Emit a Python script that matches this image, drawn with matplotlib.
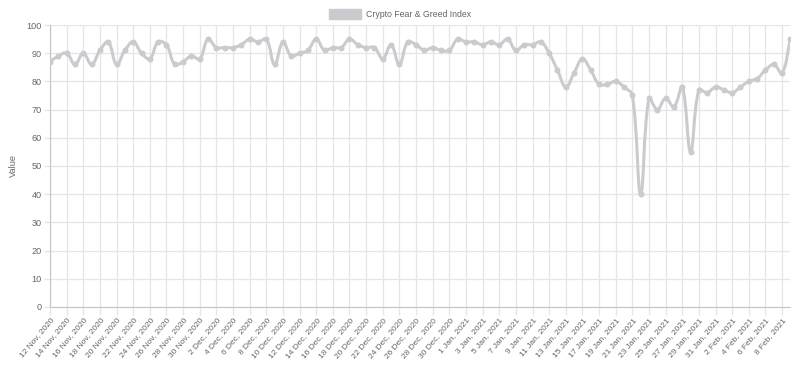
import matplotlib
matplotlib.use("Agg")
import matplotlib.pyplot as plt
from matplotlib.path import Path
from matplotlib.patches import PathPatch, Patch
import numpy as np
import pandas as pd

plt.rcParams["font.family"] = ["Liberation Sans", "DejaVu Sans"]

# daily index values, 12 Nov 2020 -> 9 Feb 2021
values = [87, 89, 90, 86, 90, 86, 91, 94, 86, 91,
          94, 90, 88, 94, 93, 86, 87, 89, 88, 95,
          92, 92, 92, 93, 95, 94, 95, 86, 94, 89,
          90, 91, 95, 91, 92, 92, 95, 93, 92, 92,
          88, 93, 86, 94, 93, 91, 92, 91, 91, 95,
          94, 94, 93, 94, 93, 95, 91, 93, 93, 94,
          90, 84, 78, 83, 88, 84, 79, 79, 80, 78,
          75, 40, 74, 70, 74, 71, 78, 55, 77, 76,
          78, 77, 76, 78, 80, 81, 84, 86, 83, 95]
dates = pd.date_range("2020-11-12", periods=len(values), freq="D")
labels = [f"{d.day} {d.strftime('%b')}, {d.year}" for d in dates]
series_name = "Crypto Fear & Greed Index"

line_color = "#c9cbcf"
text_color = "#666666"
grid_color = "#e6e6e6"

fig = plt.figure(figsize=(8, 3.65), dpi=100)
ax = fig.add_axes([0.0625, 0.159, 0.988 - 0.0625, 0.9315 - 0.159])

x = np.arange(len(values))
y = np.array(values, dtype=float)
ax.set_xlim(0, len(values) - 1)
ax.set_ylim(0, 100)

# smooth line like chart.js (tension 0.4), control points from pixel distances
bbox = ax.get_window_extent()
sx = bbox.width / (len(values) - 1)
sy = bbox.height / 100.0
t = 0.4
n = len(values)
cp_prev = np.zeros((n, 2))
cp_next = np.zeros((n, 2))
for i in range(n):
    p0 = np.array([x[max(i - 1, 0)], y[max(i - 1, 0)]])
    p1 = np.array([x[i], y[i]])
    p2 = np.array([x[min(i + 1, n - 1)], y[min(i + 1, n - 1)]])
    d01 = np.hypot((p1[0] - p0[0]) * sx, (p1[1] - p0[1]) * sy)
    d12 = np.hypot((p2[0] - p1[0]) * sx, (p2[1] - p1[1]) * sy)
    tot = d01 + d12
    s01 = d01 / tot if tot else 0
    s12 = d12 / tot if tot else 0
    cp_prev[i] = p1 - t * s01 * (p2 - p0)
    cp_next[i] = p1 + t * s12 * (p2 - p0)

verts = [(x[0], y[0])]
codes = [Path.MOVETO]
for i in range(n - 1):
    verts += [tuple(cp_next[i]), tuple(cp_prev[i + 1]), (x[i + 1], y[i + 1])]
    codes += [Path.CURVE4] * 3
ax.add_patch(PathPatch(Path(verts, codes), facecolor="none", edgecolor=line_color,
                       lw=2.2, zorder=3, capstyle="round", joinstyle="round"))
ax.plot(x, y, "o", color=line_color, ms=3.3, zorder=4)

ax.set_xticks(x[::2])
ax.set_xticklabels(labels[::2], rotation=50, ha="right", rotation_mode="anchor",
                   fontsize=6.0, color=text_color)
ax.set_yticks(range(0, 101, 10))
ax.tick_params(axis="y", labelsize=6.6, labelcolor=text_color, length=4, pad=2)
ax.tick_params(axis="x", length=6, pad=1)
ax.tick_params(color=grid_color, width=1)
ax.grid(True, color=grid_color, lw=0.9)
ax.set_axisbelow(True)
for s in ["top", "right"]:
    ax.spines[s].set_visible(False)
for s in ["left", "bottom"]:
    ax.spines[s].set_color("#c4c4c4")
ax.set_ylabel("Value", fontsize=6.6, color=text_color, labelpad=6)

fig.legend(handles=[Patch(facecolor=line_color, edgecolor=line_color)], labels=[series_name],
           loc="center", bbox_to_anchor=(0.5, 0.962), frameon=False, fontsize=6.3,
           handlelength=3.7, handleheight=1.4, labelcolor=text_color, handletextpad=0.5)

fig.savefig("out.png", dpi=100)
